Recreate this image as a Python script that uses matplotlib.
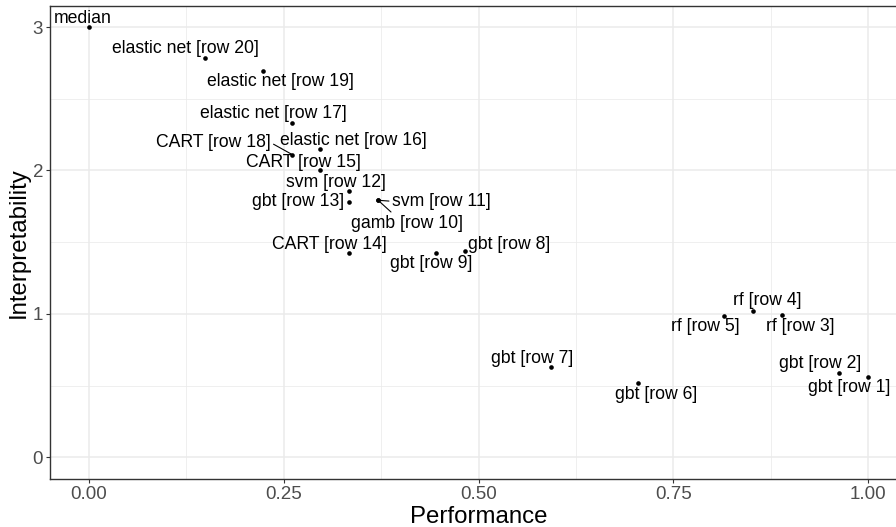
import numpy as np
import matplotlib.pyplot as plt
from matplotlib.ticker import MultipleLocator

plt.rcParams['font.family'] = ['Liberation Sans', 'DejaVu Sans']

# data
etichete = ["median", "elastic net [row 20]", "elastic net [row 19]", "elastic net [row 17]",
            "elastic net [row 16]", "CART [row 18]", "CART [row 15]", "svm [row 12]",
            "gbt [row 13]", "svm [row 11]", "gamb [row 10]", "CART [row 14]", "gbt [row 9]",
            "gbt [row 8]", "rf [row 4]", "rf [row 5]", "rf [row 3]", "gbt [row 7]",
            "gbt [row 6]", "gbt [row 2]", "gbt [row 1]"]
performanta = [0.0, 0.149, 0.223, 0.261, 0.297, 0.261, 0.297, 0.334,
               0.334, 0.371, 0.371, 0.334, 0.445,
               0.482, 0.852, 0.815, 0.889, 0.593,
               0.704, 0.963, 1.0]
interpretabilitate = [3.0, 2.785, 2.694, 2.331, 2.147, 2.110, 2.0, 1.860,
                      1.781, 1.792, 1.792, 1.424, 1.424,
                      1.436, 1.023, 0.988, 0.995, 0.629,
                      0.515, 0.585, 0.562]

# label placement (pixel offsets from each point, right / up), like ggrepel output
dx = [-6, -20, 18, -19, 33, -79, -17, -13, -51, 63, 29, -20, -5, 45, 14, -19, 18, -19, 18, -19, -19]
dy = [9, 9, -11, 9, 9, 12, 8, 8, 0, -1, -23, 9, -10, 7, 10, -11, -12, 9, -11, 10, -11]
# labels pushed away from their point get a segment (start point on the label box)
segmente = {"CART [row 18]": (1, 0.5), "svm [row 11]": (0, 0.5), "gamb [row 10]": (0.4, 0.9)}

fig = plt.figure(figsize=(8.96, 5.27), dpi=100)
ax = fig.add_axes([50 / 896, (527 - 478.8) / 527, (907.3 - 50) / 896, (478.8 - 5.5) / 527])

ax.set_xlim(-0.05, 1.05)
ax.set_ylim(-0.15, 3.15)
ax.xaxis.set_major_locator(MultipleLocator(0.25))
ax.xaxis.set_minor_locator(MultipleLocator(0.125))
ax.yaxis.set_major_locator(MultipleLocator(1))
ax.yaxis.set_minor_locator(MultipleLocator(0.5))
ax.xaxis.set_major_formatter(lambda v, p: f"{v:.2f}")
ax.yaxis.set_major_formatter(lambda v, p: f"{v:.0f}")

ax.grid(which='major', color='#EBEBEB', lw=1.1)
ax.grid(which='minor', color='#EBEBEB', lw=0.55)
ax.set_axisbelow(True)
for s in ax.spines.values():
    s.set_color('#333333')
    s.set_linewidth(1.0)

ax.tick_params(which='major', length=3, width=0.8, color='#333333',
               labelsize=13.5, labelcolor='#4D4D4D', pad=2)
ax.tick_params(which='minor', length=0)

ax.scatter(performanta, interpretabilitate, s=11, color='black', zorder=3, linewidths=0)

for i, txt in enumerate(etichete):
    props = None
    if txt in segmente:
        props = dict(arrowstyle='-', lw=0.8, color='black', shrinkA=0, shrinkB=0,
                     relpos=segmente[txt])
    ax.annotate(txt, (performanta[i], interpretabilitate[i]),
                xytext=(dx[i], dy[i]), textcoords='offset pixels',
                ha='center', va='center', fontsize=12.7, color='black',
                arrowprops=props, zorder=4)

ax.set_xlabel('Performance', fontsize=17.3, labelpad=2)
ax.set_ylabel('Interpretability', fontsize=17.3, labelpad=2)

plt.savefig('out.png', dpi=100)
